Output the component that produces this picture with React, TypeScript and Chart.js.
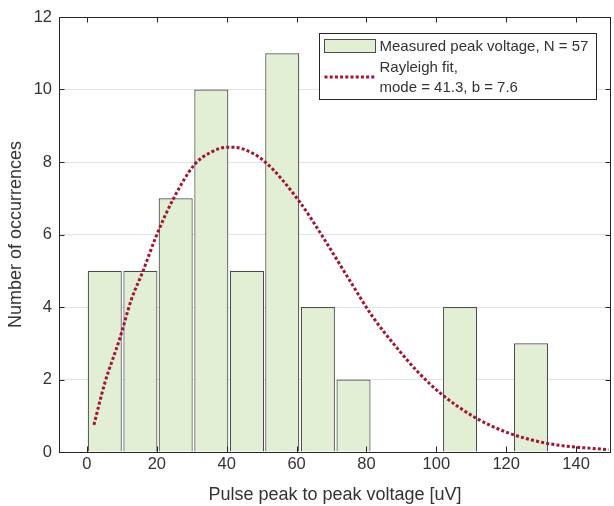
import React, { useEffect, useRef } from "react";
import { Chart, registerables } from "chart.js";
Chart.register(...registerables);

const binCenters = [5.1, 15.3, 25.4, 35.6, 45.8, 55.9, 66.1, 76.3, 86.4, 96.6, 106.8, 116.9, 127.1];
const binCounts = [5, 5, 7, 10, 5, 11, 4, 2, null, null, 4, null, 3];
const fitX = [2.0, 5.1, 9.3, 12.7, 16.0, 19.8, 24.6, 30.8, 35.5, 40.3, 44.6, 50.8, 60.8, 67.4, 75.1, 81.7, 88.4, 94.6, 101.7, 111.3, 120.8, 132.2, 149.3];
const fitY = [0.75, 1.9, 3.1, 4.2, 4.98, 5.95, 6.96, 7.93, 8.27, 8.41, 8.36, 8.02, 6.91, 5.95, 4.75, 3.74, 2.91, 2.22, 1.58, 0.94, 0.52, 0.23, 0.06];
const xTicks = [0, 20, 40, 60, 80, 100, 120, 140];
const yTicks = [0, 2, 4, 6, 8, 10, 12];
const xLabel = "Pulse peak to peak voltage [uV]";
const yLabel = "Number of occurrences";
const legendBarText = ["Measured peak voltage, N = 57"];
const legendFitText = ["Rayleigh fit,", "mode = 41.3, b = 7.6"];

const FONT = '"Liberation Sans", Arial, Helvetica, sans-serif';
const TEXT = "#333333";
const AXIS = "#262626";
const BAR_FILL = "#e2efd5";
const BAR_EDGE = "#4a4e49";
const FIT = "#a2142f";

const framePlugin = {
  id: "frame",
  afterDraw(chart: any) {
    const { ctx, chartArea } = chart;
    const { left, right, top, bottom } = chartArea;
    const xs = chart.scales.x;
    const ys = chart.scales.y;
    ctx.save();
    ctx.strokeStyle = AXIS;
    ctx.lineWidth = 1;
    const tl = 5.5;
    ctx.beginPath();
    xTicks.forEach((v) => {
      const px = Math.round(xs.getPixelForValue(v)) + 0.5;
      ctx.moveTo(px, bottom);
      ctx.lineTo(px, bottom - tl);
      ctx.moveTo(px, top);
      ctx.lineTo(px, top + tl);
    });
    yTicks.forEach((v) => {
      const py = Math.round(ys.getPixelForValue(v)) + 0.5;
      ctx.moveTo(left, py);
      ctx.lineTo(left + tl, py);
      ctx.moveTo(right, py);
      ctx.lineTo(right - tl, py);
    });
    ctx.stroke();
    ctx.strokeRect(Math.round(left) + 0.5, Math.round(top) + 0.5, Math.round(right - left) - 1, Math.round(bottom - top));

    // legend
    const lx = Math.round(right) - 292 + 0.5;
    const ly = Math.round(top) + 16 + 0.5;
    const lw = 277;
    const lh = 66;
    ctx.fillStyle = "#ffffff";
    ctx.fillRect(lx, ly, lw, lh);
    ctx.strokeStyle = AXIS;
    ctx.strokeRect(lx, ly, lw, lh);
    ctx.fillStyle = BAR_FILL;
    ctx.fillRect(lx + 5, ly + 6, 51, 13);
    ctx.strokeStyle = BAR_EDGE;
    ctx.strokeRect(lx + 5, ly + 6, 51, 13);
    ctx.font = `15px ${FONT}`;
    ctx.fillStyle = TEXT;
    ctx.textBaseline = "middle";
    ctx.textAlign = "left";
    ctx.fillText(legendBarText[0], lx + 60, ly + 13);
    ctx.fillText(legendFitText[0], lx + 60, ly + 34);
    ctx.fillText(legendFitText[1], lx + 60, ly + 54.5);
    ctx.strokeStyle = FIT;
    ctx.lineWidth = 3;
    ctx.setLineDash([3, 2.2]);
    ctx.beginPath();
    ctx.moveTo(lx + 5, ly + 43.5);
    ctx.lineTo(lx + 56, ly + 43.5);
    ctx.stroke();
    ctx.restore();
  },
};

export default function App() {
  const ref = useRef<HTMLCanvasElement | null>(null);
  useEffect(() => {
    if (!ref.current) return;
    const chart = new Chart(ref.current, {
      data: {
        datasets: [
          {
            type: "line",
            label: legendFitText.join(" "),
            data: fitX.map((x, i) => ({ x, y: fitY[i] })),
            borderColor: FIT,
            borderWidth: 3,
            borderDash: [3, 2.2],
            pointRadius: 0,
            fill: false,
            cubicInterpolationMode: "monotone",
            order: 0,
          } as any,
          {
            type: "bar",
            label: legendBarText[0],
            data: binCenters.map((x, i) => ({ x, y: binCounts[i] })),
            backgroundColor: BAR_FILL,
            borderColor: BAR_EDGE,
            borderWidth: 1.2,
            barPercentage: 0.965,
            categoryPercentage: 1,
            order: 1,
          } as any,
        ],
      },
      options: {
        animation: false,
        responsive: false,
        maintainAspectRatio: false,
        layout: { padding: { top: 17, right: 3, left: 0, bottom: 0 } },
        plugins: { legend: { display: false }, tooltip: { enabled: false } },
        scales: {
          x: {
            type: "linear",
            min: -8,
            max: 150,
            offset: false,
            afterBuildTicks: (s: any) => {
              s.ticks = xTicks.map((v) => ({ value: v }));
            },
            afterFit: (s: any) => {
              s.height = 54;
            },
            grid: { display: false, drawTicks: false },
            border: { display: false },
            ticks: {
              color: TEXT,
              font: { family: FONT, size: 16.5 },
              padding: 3,
              maxRotation: 0,
              autoSkip: false,
            },
            title: {
              display: true,
              text: xLabel,
              color: TEXT,
              font: { family: FONT, size: 18 },
              padding: { top: 0, bottom: 0 },
            },
          },
          y: {
            type: "linear",
            min: 0,
            max: 12,
            afterBuildTicks: (s: any) => {
              s.ticks = yTicks.map((v) => ({ value: v }));
            },
            afterFit: (s: any) => {
              s.width = 59;
            },
            grid: { color: "#e3e3e3", drawTicks: false, lineWidth: 1 },
            border: { display: false },
            ticks: {
              color: TEXT,
              font: { family: FONT, size: 16.5 },
              padding: 7,
              autoSkip: false,
            },
            title: {
              display: true,
              text: yLabel,
              color: TEXT,
              font: { family: FONT, size: 18 },
              padding: { top: 5, bottom: 0 },
            },
          },
        },
      },
      plugins: [framePlugin],
    } as any);
    return () => chart.destroy();
  }, []);
  return (
    <div style={{ position: "absolute", left: 0, top: 0, width: 614, height: 506, background: "#fff" }}>
      <canvas ref={ref} width={614} height={506} style={{ display: "block" }} />
    </div>
  );
}
